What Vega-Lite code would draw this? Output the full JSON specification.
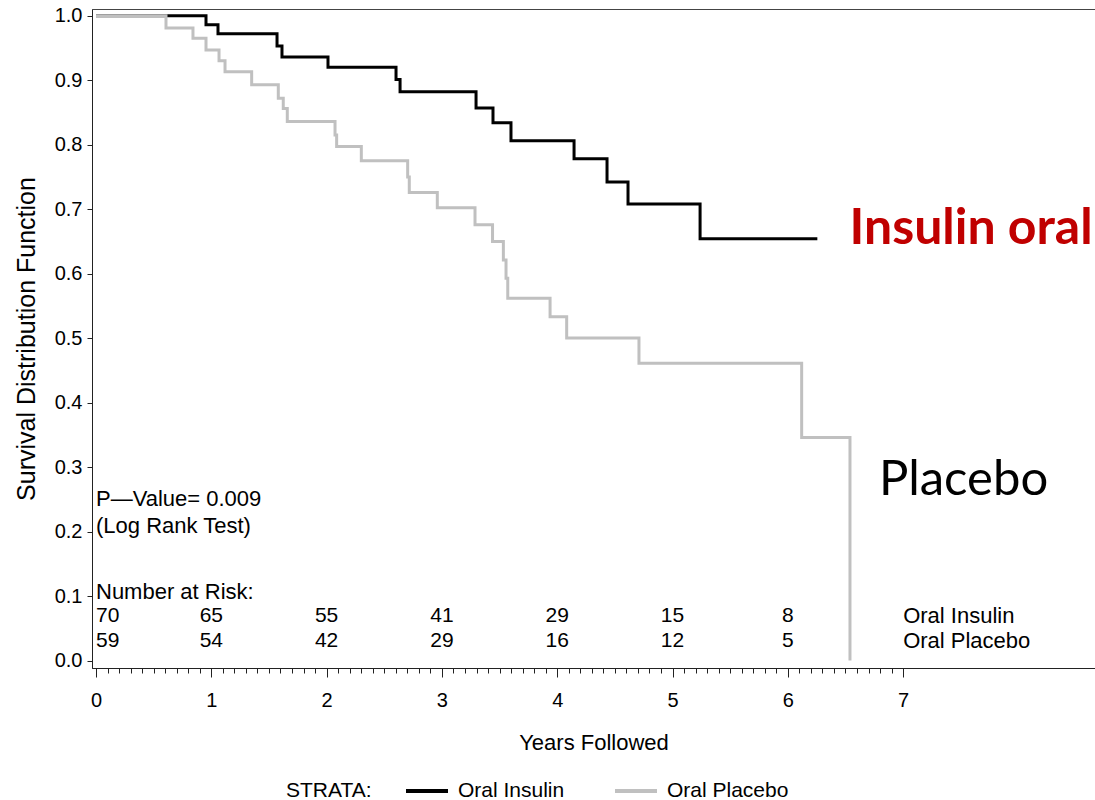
{
  "$schema": "https://vega.github.io/schema/vega-lite/v6.json",
  "width": 1003,
  "height": 659,
  "autosize": "none",
  "padding": {"left": 92, "top": 9, "right": 0, "bottom": 132},
  "background": "white",
  "config": {
    "view": {"stroke": "#444444", "strokeWidth": 1},
    "font": "Liberation Sans",
    "text": {"font": "Liberation Sans", "fontSize": 21, "color": "black"}
  },
  "datasets": {
    "km": [
      {"grp": "Oral Insulin", "t": 0, "s": 1.0},
      {"grp": "Oral Insulin", "t": 0.954, "s": 0.986},
      {"grp": "Oral Insulin", "t": 1.058, "s": 0.972},
      {"grp": "Oral Insulin", "t": 1.570, "s": 0.953},
      {"grp": "Oral Insulin", "t": 1.613, "s": 0.936},
      {"grp": "Oral Insulin", "t": 2.012, "s": 0.920},
      {"grp": "Oral Insulin", "t": 2.602, "s": 0.901},
      {"grp": "Oral Insulin", "t": 2.637, "s": 0.882},
      {"grp": "Oral Insulin", "t": 3.296, "s": 0.857},
      {"grp": "Oral Insulin", "t": 3.443, "s": 0.834},
      {"grp": "Oral Insulin", "t": 3.599, "s": 0.806},
      {"grp": "Oral Insulin", "t": 4.146, "s": 0.778},
      {"grp": "Oral Insulin", "t": 4.432, "s": 0.742},
      {"grp": "Oral Insulin", "t": 4.614, "s": 0.708},
      {"grp": "Oral Insulin", "t": 5.239, "s": 0.654},
      {"grp": "Oral Insulin", "t": 6.256, "s": 0.654},
      {"grp": "Oral Placebo", "t": 0, "s": 1.0},
      {"grp": "Oral Placebo", "t": 0.607, "s": 0.981},
      {"grp": "Oral Placebo", "t": 0.841, "s": 0.965},
      {"grp": "Oral Placebo", "t": 0.954, "s": 0.947},
      {"grp": "Oral Placebo", "t": 1.067, "s": 0.930},
      {"grp": "Oral Placebo", "t": 1.119, "s": 0.913},
      {"grp": "Oral Placebo", "t": 1.350, "s": 0.893},
      {"grp": "Oral Placebo", "t": 1.581, "s": 0.872},
      {"grp": "Oral Placebo", "t": 1.624, "s": 0.856},
      {"grp": "Oral Placebo", "t": 1.659, "s": 0.836},
      {"grp": "Oral Placebo", "t": 2.073, "s": 0.815},
      {"grp": "Oral Placebo", "t": 2.087, "s": 0.797},
      {"grp": "Oral Placebo", "t": 2.301, "s": 0.775},
      {"grp": "Oral Placebo", "t": 2.703, "s": 0.750},
      {"grp": "Oral Placebo", "t": 2.717, "s": 0.726},
      {"grp": "Oral Placebo", "t": 2.960, "s": 0.702},
      {"grp": "Oral Placebo", "t": 3.287, "s": 0.676},
      {"grp": "Oral Placebo", "t": 3.439, "s": 0.650},
      {"grp": "Oral Placebo", "t": 3.533, "s": 0.621},
      {"grp": "Oral Placebo", "t": 3.556, "s": 0.593},
      {"grp": "Oral Placebo", "t": 3.571, "s": 0.562},
      {"grp": "Oral Placebo", "t": 3.938, "s": 0.533},
      {"grp": "Oral Placebo", "t": 4.082, "s": 0.500},
      {"grp": "Oral Placebo", "t": 4.709, "s": 0.461},
      {"grp": "Oral Placebo", "t": 6.120, "s": 0.346},
      {"grp": "Oral Placebo", "t": 6.539, "s": 0.0}
    ],
    "risk": [
      {"grp": "Oral Insulin", "t": 0, "s": 0.069, "n": "70"},
      {"grp": "Oral Insulin", "t": 1, "s": 0.069, "n": "65"},
      {"grp": "Oral Insulin", "t": 2, "s": 0.069, "n": "55"},
      {"grp": "Oral Insulin", "t": 3, "s": 0.069, "n": "41"},
      {"grp": "Oral Insulin", "t": 4, "s": 0.069, "n": "29"},
      {"grp": "Oral Insulin", "t": 5, "s": 0.069, "n": "15"},
      {"grp": "Oral Insulin", "t": 6, "s": 0.069, "n": "8"},
      {"grp": "Oral Insulin", "t": 7, "s": 0.069, "n": "Oral  Insulin"},
      {"grp": "Oral Placebo", "t": 0, "s": 0.030, "n": "59"},
      {"grp": "Oral Placebo", "t": 1, "s": 0.030, "n": "54"},
      {"grp": "Oral Placebo", "t": 2, "s": 0.030, "n": "42"},
      {"grp": "Oral Placebo", "t": 3, "s": 0.030, "n": "29"},
      {"grp": "Oral Placebo", "t": 4, "s": 0.030, "n": "16"},
      {"grp": "Oral Placebo", "t": 5, "s": 0.030, "n": "12"},
      {"grp": "Oral Placebo", "t": 6, "s": 0.030, "n": "5"},
      {"grp": "Oral Placebo", "t": 7, "s": 0.030, "n": "Oral  Placebo"}
    ],
    "notes": [
      {"kind": "sas", "t": 0, "s": 0.106, "label": "Number  at  Risk:"},
      {"kind": "sas", "t": 0, "s": 0.251, "label": "P—Value= 0.009"},
      {"kind": "sas", "t": 0, "s": 0.208, "label": "(Log  Rank  Test)"},
      {"kind": "red", "t": 6.535, "s": 0.646, "label": "Insulin oral"},
      {"kind": "black", "t": 6.79, "s": 0.257, "label": "Placebo"}
    ]
  },
  "encoding": {
    "x": {
      "field": "t", "type": "quantitative",
      "scale": {"domain": [-0.0347, 8.664], "nice": false, "zero": false},
      "axis": {
        "values": [0,0.1,0.2,0.3,0.4,0.5,0.6,0.7,0.8,0.9,1,1.1,1.2,1.3,1.4,1.5,1.6,1.7,1.8,1.9,2,2.1,2.2,2.3,2.4,2.5,2.6,2.7,2.8,2.9,3,3.1,3.2,3.3,3.4,3.5,3.6,3.7,3.8,3.9,4,4.1,4.2,4.3,4.4,4.5,4.6,4.7,4.8,4.9,5,5.1,5.2,5.3,5.4,5.5,5.6,5.7,5.8,5.9,6,6.1,6.2,6.3,6.4,6.5,6.6,6.7,6.8,6.9,7],
        "labelExpr": "abs(datum.value - round(datum.value)) < 0.001 ? format(datum.value, 'd') : ''",
        "labelOverlap": false,
        "labelFlush": false,
        "tickSize": {"condition": {"test": "abs(datum.value - round(datum.value)) < 0.001", "value": 9}, "value": 5},
        "tickColor": "#222222",
        "domainColor": "#222222",
        "grid": false,
        "labelFont": "Liberation Sans",
        "labelFontSize": 20,
        "labelColor": "black",
        "labelPadding": 13,
        "title": "Years  Followed",
        "titleFont": "Liberation Sans",
        "titleFontSize": 22,
        "titleFontWeight": "normal",
        "titleColor": "black",
        "titlePadding": 22
      }
    },
    "y": {
      "field": "s", "type": "quantitative",
      "scale": {"domain": [-0.0116, 1.0104], "nice": false, "zero": false},
      "axis": {
        "values": [0,0.1,0.2,0.3,0.4,0.5,0.6,0.7,0.8,0.9,1.0],
        "format": ".1f",
        "tickSize": 5,
        "tickColor": "#222222",
        "domainColor": "#222222",
        "grid": false,
        "labelFont": "Liberation Sans",
        "labelFontSize": 20,
        "labelColor": "black",
        "labelPadding": 5,
        "title": "Survival  Distribution  Function",
        "titleFont": "Liberation Sans",
        "titleFontSize": 25,
        "titleFontWeight": "normal",
        "titleColor": "black",
        "titlePadding": 15
      }
    }
  },
  "layer": [
    {
      "data": {"name": "km"},
      "mark": {"type": "line", "interpolate": "step-after", "strokeWidth": 3},
      "encoding": {
        "color": {
          "field": "grp", "type": "nominal",
          "scale": {"domain": ["Oral Insulin", "Oral Placebo"], "range": ["#000000", "#c0c0c0"]},
          "legend": {
            "orient": "none",
            "legendX": 194,
            "legendY": 771,
            "direction": "horizontal",
            "title": "STRATA:",
            "titleOrient": "left",
            "titleFont": "Liberation Sans",
            "titleFontSize": 21,
            "titleFontWeight": "normal",
            "titleColor": "black",
            "titlePadding": 32,
            "labelFont": "Liberation Sans",
            "labelFontSize": 21,
            "labelColor": "black",
            "labelOffset": 8,
            "columnPadding": 42,
            "clipHeight": 22,
            "symbolType": "stroke",
            "symbolSize": 1764,
            "symbolStrokeWidth": 4,
            "labelExpr": "datum.label == 'Oral Insulin' ? 'Oral  Insulin' : 'Oral  Placebo'"
          }
        }
      }
    },
    {
      "data": {"name": "risk"},
      "transform": [{"filter": "datum.t > 0 && datum.t < 7"}],
      "mark": {"type": "text", "align": "center", "baseline": "middle", "fontSize": 21},
      "encoding": {"text": {"field": "n"}}
    },
    {
      "data": {"name": "risk"},
      "transform": [{"filter": "datum.t == 0"}],
      "mark": {"type": "text", "align": "left", "baseline": "middle", "fontSize": 21},
      "encoding": {"text": {"field": "n"}}
    },
    {
      "data": {"name": "risk"},
      "transform": [{"filter": "datum.t == 7"}],
      "mark": {"type": "text", "align": "left", "baseline": "middle", "fontSize": 22},
      "encoding": {"text": {"field": "n"}}
    },
    {
      "data": {"name": "notes"},
      "transform": [{"filter": "datum.kind == 'sas'"}],
      "mark": {"type": "text", "align": "left", "baseline": "middle", "fontSize": 22},
      "encoding": {"text": {"field": "label"}}
    },
    {
      "data": {"name": "notes"},
      "transform": [{"filter": "datum.kind == 'red'"}],
      "mark": {"type": "text", "align": "left", "baseline": "alphabetic", "font": "Lato", "fontSize": 50, "fontWeight": "bold", "color": "#C00000"},
      "encoding": {"text": {"field": "label"}}
    },
    {
      "data": {"name": "notes"},
      "transform": [{"filter": "datum.kind == 'black'"}],
      "mark": {"type": "text", "align": "left", "baseline": "alphabetic", "font": "Lato", "fontSize": 49, "fontWeight": "normal", "color": "#000000"},
      "encoding": {"text": {"field": "label"}}
    }
  ]
}
